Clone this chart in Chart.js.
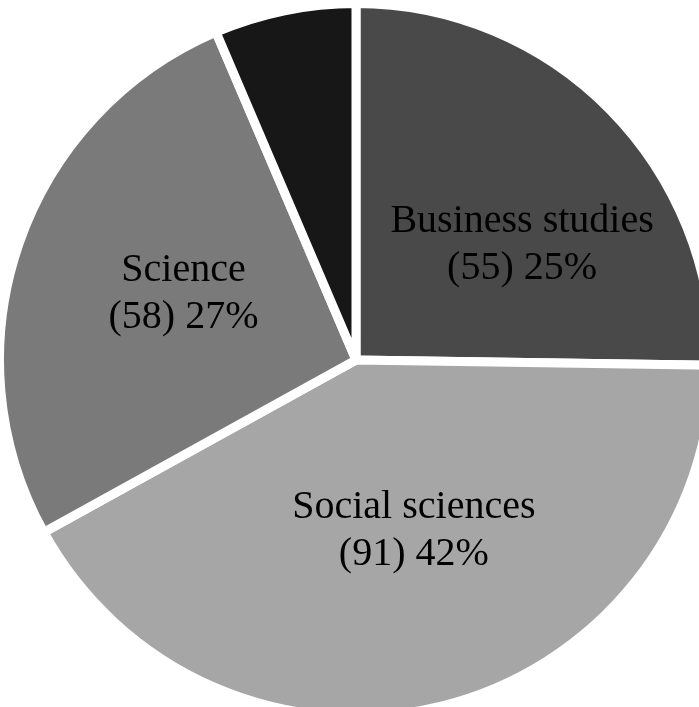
<!DOCTYPE html>
<html lang="en">

<head>
    <meta charset="UTF-8">
    <title>Pie chart</title>
    <style>
        body {
            margin: 0;
            background-color: white;
            overflow: hidden;
        }

        #wrap {
            position: relative;
            width: 699px;
            height: 707px;
            overflow: hidden;
        }

        #chart1 {
            position: absolute;
            left: -5px;
            top: -1px;
        }
    </style>
</head>

<body>
    <div id="wrap">
        <canvas id="chart1" width="722" height="722"></canvas>
    </div>

    <script src="https://cdn.jsdelivr.net/npm/chart.js"></script>
    <script>
        const categories = ['Business studies', 'Social sciences', 'Science', 'Other'];
        const counts = [55, 91, 58, 14];
        const sliceColors = ['#494949', '#a6a6a6', '#7a7a7a', '#171717'];

        // where each label sits: angle shift (deg) from slice middle, fraction of radius
        const labelPlacement = [
            { shift: 9.4, frac: 0.57 },
            { shift: -4.9, frac: 0.50 },
            { shift: 2.5, frac: 0.52 },
            null
        ];

        const sliceLabels = {
            id: 'sliceLabels',
            afterDatasetsDraw(chart) {
                const ctx = chart.ctx;
                const meta = chart.getDatasetMeta(0);
                const values = chart.data.datasets[0].data;
                const total = values.reduce(function (a, b) { return a + b; }, 0);
                ctx.save();
                ctx.fillStyle = '#000000';
                ctx.font = '40px "Liberation Serif", "DejaVu Serif", serif';
                ctx.textAlign = 'center';
                ctx.textBaseline = 'alphabetic';
                meta.data.forEach(function (arc, i) {
                    const p = labelPlacement[i];
                    if (!p) return;
                    const a = (arc.startAngle + arc.endAngle) / 2 + p.shift * Math.PI / 180;
                    const r = arc.outerRadius * p.frac;
                    const x = arc.x + Math.cos(a) * r;
                    const y = arc.y + Math.sin(a) * r;
                    const pct = Math.round(values[i] / total * 100);
                    ctx.fillText(chart.data.labels[i], x, y - 11);
                    ctx.fillText('(' + values[i] + ') ' + pct + '%', x, y + 36);
                });
                ctx.restore();
            }
        };

        new Chart(document.getElementById('chart1'), {
            type: 'pie',
            data: {
                labels: categories,
                datasets: [{
                    data: counts,
                    backgroundColor: sliceColors,
                    borderColor: '#ffffff',
                    borderWidth: 9,
                    hoverOffset: 0
                }]
            },
            options: {
                responsive: false,
                animation: false,
                layout: { padding: 0 },
                plugins: {
                    legend: { display: false },
                    tooltip: { enabled: false }
                }
            },
            plugins: [sliceLabels]
        });
    </script>
</body>

</html>
